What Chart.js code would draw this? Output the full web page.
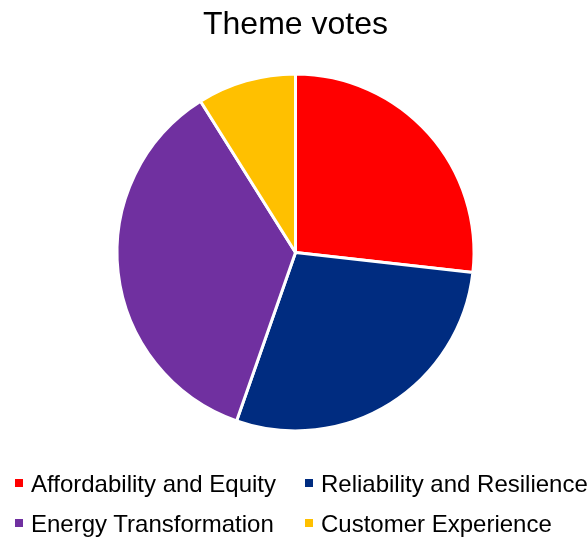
<!DOCTYPE html>
<html>
<head>
<meta charset="utf-8">
<script src="https://cdn.jsdelivr.net/npm/chart.js@4"></script>
<style>
  html, body { margin: 0; padding: 0; background: #fff; }
  #wrap { position: relative; width: 588px; height: 540px; }
  #legend {
    position: absolute; left: 0; top: 466px; width: 588px;
    font-family: "Liberation Sans", Arial, sans-serif; font-size: 24px; color: #000;
  }
  #legend .item { position: absolute; height: 40px; line-height: 36px; white-space: nowrap; }
  #legend .box { position: absolute; left: 0; top: 13px; width: 8px; height: 8px; }
  #legend .text { position: absolute; left: 16px; top: 0; }
</style>
</head>
<body>
<div id="wrap">
  <canvas id="chart" width="588" height="540"></canvas>
  <div id="legend"></div>
</div>
<script>
const labels = [
  "Affordability and Equity",
  "Reliability and Resilience",
  "Energy Transformation",
  "Customer Experience",
];
const votes = [30, 32, 40, 10];
const colors = ["#ff0000", "#002c80", "#7030a0", "#ffc000"];

const data = {
  labels: labels,
  datasets: [
    {
      label: "Votes",
      data: votes,
      backgroundColor: colors,
      borderColor: "#fff",
      borderWidth: 3,
    },
  ],
};

const config = {
  type: "pie",
  data: data,
  options: {
    responsive: false,
    animation: false,
    layout: {
      padding: { left: 115.5, right: 112.5, top: 0, bottom: 107.5 },
    },
    plugins: {
      legend: { display: false },
      tooltip: { enabled: false },
      title: {
        display: true,
        text: "Theme votes",
        color: "#000",
        font: { family: "'Liberation Sans', Arial, sans-serif", size: 32, weight: "normal" },
        padding: { top: 6, bottom: 28 },
      },
    },
  },
};

const chart = new Chart("chart", config);

// two-column legend like the original
const legend = document.getElementById("legend");
const colX = [15, 305];
labels.forEach(function (label, i) {
  const item = document.createElement("div");
  item.className = "item";
  item.style.left = colX[i % 2] + "px";
  item.style.top = Math.floor(i / 2) * 40 + "px";
  item.innerHTML =
    '<span class="box" style="background:' + colors[i] + '"></span>' +
    '<span class="text">' + label + "</span>";
  legend.appendChild(item);
});
</script>
</body>
</html>
